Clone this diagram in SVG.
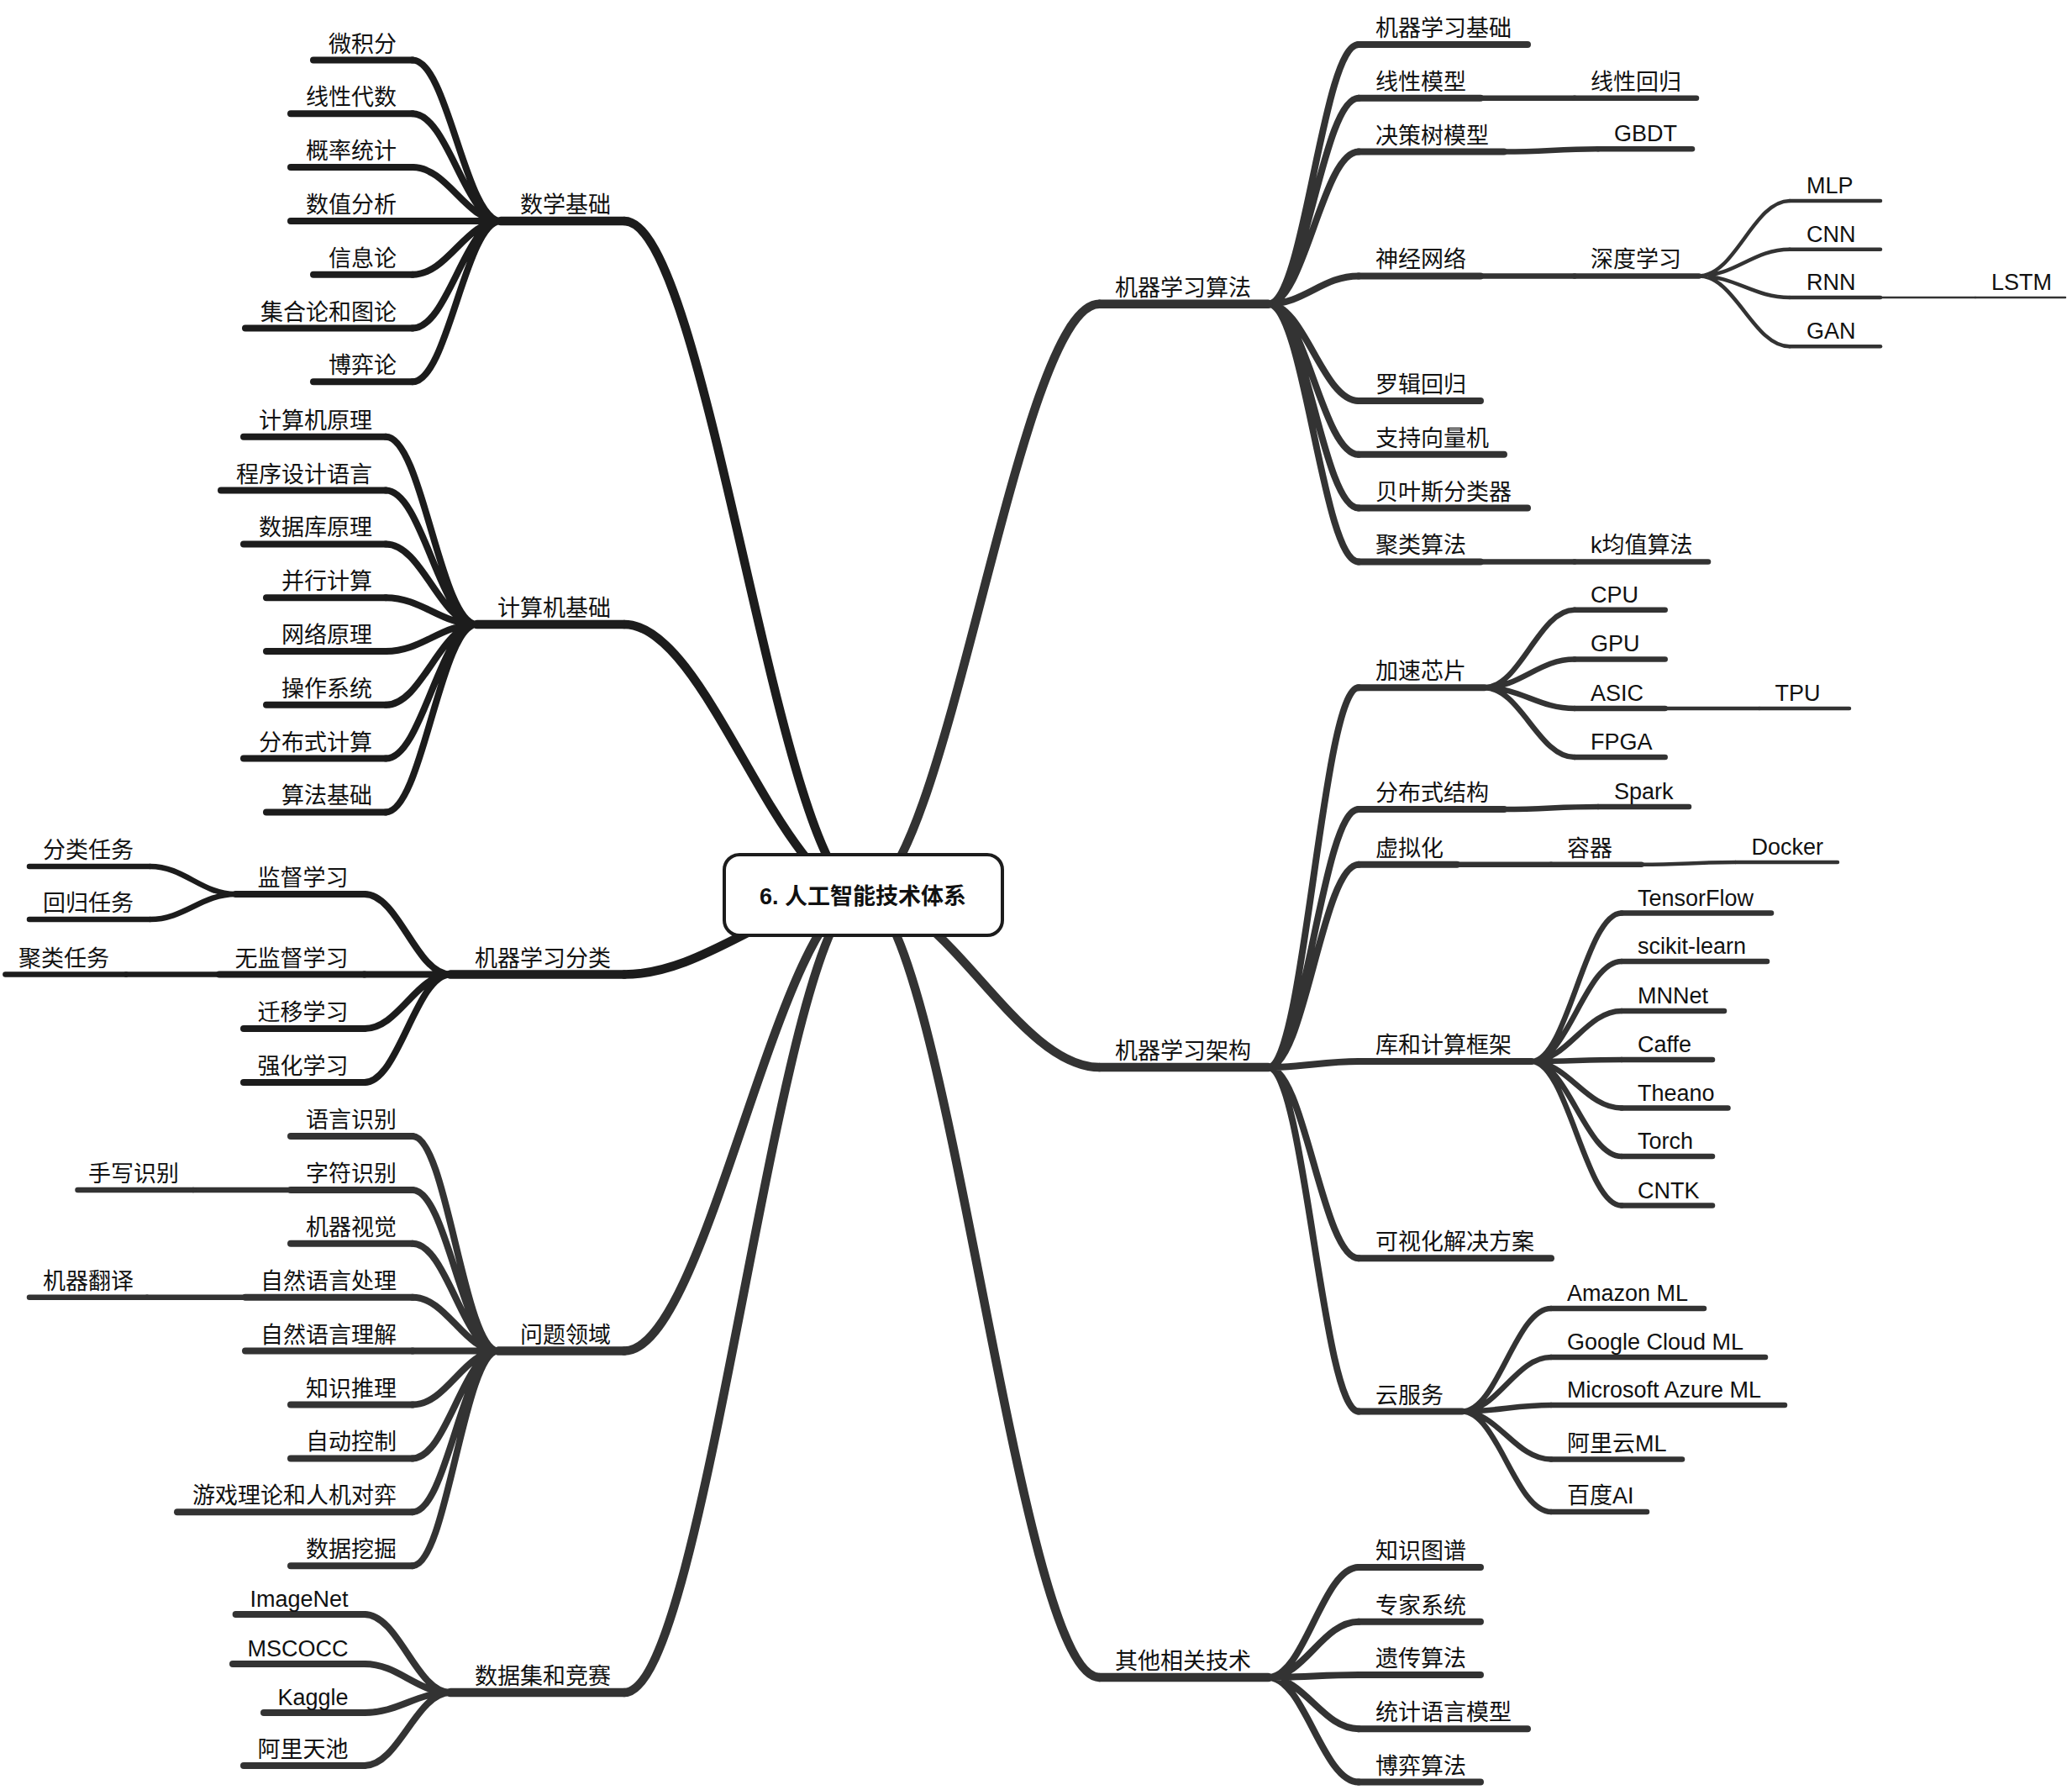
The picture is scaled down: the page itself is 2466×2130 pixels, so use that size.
<svg xmlns="http://www.w3.org/2000/svg" width="2466" height="2130" viewBox="0 0 2466 2130">
<style>
text{font-family:"Liberation Sans","Noto Sans CJK SC",sans-serif;font-size:27px;fill:#111}
.e{text-anchor:end}
path{fill:none;stroke-linecap:round;stroke-linejoin:round}
.k{stroke:#1c1c1c}.g{stroke:#333}
.w1{stroke-width:10.5}.w2{stroke-width:8}.w3{stroke-width:6.5}.w4{stroke-width:4.5}.w5{stroke-width:2.5}
</style>
<rect width="2466" height="2130" fill="#fff"/>
<g id="connectors">
<path class="k w1" d="M1027 1065C927.6 1065 842.4 263 743 263"/>
<path class="k w1" d="M1027 1065C927.6 1065 842.4 743 743 743"/>
<path class="k w1" d="M1027 1065C927.6 1065 842.4 1159.5 743 1159.5"/>
<path class="g w1" d="M1027 1065C927.6 1065 842.4 1607.5 743 1607.5"/>
<path class="g w1" d="M1027 1065C927.6 1065 842.4 2014 743 2014"/>
<path class="g w1" d="M1027 1065C1125.5 1065 1210 361.7 1308.5 361.7"/>
<path class="g w1" d="M1027 1065C1125.5 1065 1210 1270 1308.5 1270"/>
<path class="g w1" d="M1027 1065C1125.5 1065 1210 1996 1308.5 1996"/>
<path class="k w2" d="M596 263C554 263 533 71.5 491 71.5M596 263C554 263 533 135.3 491 135.3M596 263C554 263 533 199.1 491 199.1M596 263H491M596 263C554 263 533 326.7 491 326.7M596 263C554 263 533 390.5 491 390.5M596 263C554 263 533 454.3 491 454.3"/>
<path class="k w2" d="M567.6 743C524.2 743 502.6 519.8 459.2 519.8M567.6 743C524.2 743 502.6 583.6 459.2 583.6M567.6 743C524.2 743 502.6 647.4 459.2 647.4M567.6 743C524.2 743 502.6 711.2 459.2 711.2M567.6 743C524.2 743 502.6 775 459.2 775M567.6 743C524.2 743 502.6 838.8 459.2 838.8M567.6 743C524.2 743 502.6 902.6 459.2 902.6M567.6 743C524.2 743 502.6 966.4 459.2 966.4"/>
<path class="k w2" d="M536 1159.5C495.1 1159.5 474.6 1064 433.7 1064M536 1159.5H433.7M536 1159.5C495.1 1159.5 474.6 1224 433.7 1224M536 1159.5C495.1 1159.5 474.6 1288 433.7 1288"/>
<path class="k w3" d="M280.6 1064C239.8 1064 219.4 1031 178.6 1031M280.6 1064C239.8 1064 219.4 1094 178.6 1094M261 1159.5H150"/>
<path class="g w2" d="M593 1607.5C552.2 1607.5 531.8 1352 491 1352M593 1607.5C552.2 1607.5 531.8 1415.9 491 1415.9M593 1607.5C552.2 1607.5 531.8 1479.8 491 1479.8M593 1607.5C552.2 1607.5 531.8 1543.7 491 1543.7M593 1607.5H491M593 1607.5C552.2 1607.5 531.8 1671.5 491 1671.5M593 1607.5C552.2 1607.5 531.8 1735.4 491 1735.4M593 1607.5C552.2 1607.5 531.8 1799.3 491 1799.3M593 1607.5C552.2 1607.5 531.8 1863.2 491 1863.2"/>
<path class="g w3" d="M346 1415.9H230M292 1543.7H175"/>
<path class="g w2" d="M536 2014C495.1 2014 474.6 1921 433.7 1921M536 2014C495.1 2014 474.6 1980 433.7 1980M536 2014C495.1 2014 474.6 2038 433.7 2038M536 2014C495.1 2014 474.6 2101 433.7 2101"/>
<path class="g w2" d="M1509.5 361.7C1552.5 361.7 1574 53 1617 53M1509.5 361.7C1552.5 361.7 1574 116.7 1617 116.7M1509.5 361.7C1552.5 361.7 1574 180.5 1617 180.5M1509.5 361.7C1552.5 361.7 1574 328.4 1617 328.4M1509.5 361.7C1552.5 361.7 1574 477 1617 477M1509.5 361.7C1552.5 361.7 1574 540.8 1617 540.8M1509.5 361.7C1552.5 361.7 1574 604.6 1617 604.6M1509.5 361.7C1552.5 361.7 1574 668.4 1617 668.4"/>
<path class="g w3" d="M1762 116.7H1874M1790 180.5C1840 180.5 1852 177.3 1902 177.3M1762 328.4H1874M1762 668.4H1874"/>
<path class="g w4" d="M2022 328.4C2065.2 328.4 2086.8 239 2130 239M2022 328.4C2065.2 328.4 2086.8 296.7 2130 296.7M2022 328.4C2065.2 328.4 2086.8 354 2130 354M2022 328.4C2065.2 328.4 2086.8 412.3 2130 412.3"/>
<path class="g w5" d="M2238 354H2351"/>
<path class="g w2" d="M1509.5 1270C1552.5 1270 1574 818.2 1617 818.2M1509.5 1270C1552.5 1270 1574 963 1617 963M1509.5 1270C1552.5 1270 1574 1028.8 1617 1028.8M1509.5 1270C1552.5 1270 1574 1263 1617 1263M1509.5 1270C1552.5 1270 1574 1497.3 1617 1497.3M1509.5 1270C1552.5 1270 1574 1679.5 1617 1679.5"/>
<path class="g w3" d="M1766.6 818.2C1809.6 818.2 1831 725.8 1874 725.8M1766.6 818.2C1809.6 818.2 1831 784.4 1874 784.4M1766.6 818.2C1809.6 818.2 1831 843 1874 843M1766.6 818.2C1809.6 818.2 1831 901.1 1874 901.1"/>
<path class="g w4" d="M1981.7 843H2094M1953.6 1028.8C2003 1028.8 2016 1026 2065.6 1026"/>
<path class="g w3" d="M1790 963C1840 963 1852 960 1902 960M1734 1028.8H1846"/>
<path class="g w3" d="M1822.7 1263C1865.7 1263 1887 1086.5 1930 1086.5M1822.7 1263C1865.7 1263 1887 1144 1930 1144M1822.7 1263C1865.7 1263 1887 1203 1930 1203M1822.7 1263C1865.7 1263 1887 1261 1930 1261M1822.7 1263C1865.7 1263 1887 1318.5 1930 1318.5M1822.7 1263C1865.7 1263 1887 1376 1930 1376M1822.7 1263C1865.7 1263 1887 1434.6 1930 1434.6"/>
<path class="g w3" d="M1740 1679.5C1782.4 1679.5 1803.6 1557 1846 1557M1740 1679.5C1782.4 1679.5 1803.6 1615 1846 1615M1740 1679.5C1782.4 1679.5 1803.6 1672 1846 1672M1740 1679.5C1782.4 1679.5 1803.6 1736.5 1846 1736.5M1740 1679.5C1782.4 1679.5 1803.6 1799 1846 1799"/>
<path class="g w2" d="M1509.5 1996C1552.5 1996 1574 1865 1617 1865M1509.5 1996C1552.5 1996 1574 1929.7 1617 1929.7M1509.5 1996C1552.5 1996 1574 1993 1617 1993M1509.5 1996C1552.5 1996 1574 2057.2 1617 2057.2M1509.5 1996C1552.5 1996 1574 2120.6 1617 2120.6"/>
</g>
<g id="math"><path class="k w1" d="M596 263H743"/><text class="e" x="727" y="253">数学基础</text></g>
<g id="math-1"><path class="k w2" d="M373 71.5H491"/><text class="e" x="472" y="61.5">微积分</text></g>
<g id="math-2"><path class="k w2" d="M346 135.3H491"/><text class="e" x="472" y="125.3">线性代数</text></g>
<g id="math-3"><path class="k w2" d="M346 199.1H491"/><text class="e" x="472" y="189.1">概率统计</text></g>
<g id="math-4"><path class="k w2" d="M346 263H491"/><text class="e" x="472" y="253">数值分析</text></g>
<g id="math-5"><path class="k w2" d="M373 326.7H491"/><text class="e" x="472" y="316.7">信息论</text></g>
<g id="math-6"><path class="k w2" d="M292 390.5H491"/><text class="e" x="472" y="380.5">集合论和图论</text></g>
<g id="math-7"><path class="k w2" d="M373 454.3H491"/><text class="e" x="472" y="444.3">博弈论</text></g>
<g id="cs"><path class="k w1" d="M567.6 743H743"/><text class="e" x="727" y="733">计算机基础</text></g>
<g id="cs-1"><path class="k w2" d="M290 519.8H459.2"/><text class="e" x="443" y="509.8">计算机原理</text></g>
<g id="cs-2"><path class="k w2" d="M263 583.6H459.2"/><text class="e" x="443" y="573.6">程序设计语言</text></g>
<g id="cs-3"><path class="k w2" d="M290 647.4H459.2"/><text class="e" x="443" y="637.4">数据库原理</text></g>
<g id="cs-4"><path class="k w2" d="M317 711.2H459.2"/><text class="e" x="443" y="701.2">并行计算</text></g>
<g id="cs-5"><path class="k w2" d="M317 775H459.2"/><text class="e" x="443" y="765">网络原理</text></g>
<g id="cs-6"><path class="k w2" d="M317 838.8H459.2"/><text class="e" x="443" y="828.8">操作系统</text></g>
<g id="cs-7"><path class="k w2" d="M290 902.6H459.2"/><text class="e" x="443" y="892.6">分布式计算</text></g>
<g id="cs-8"><path class="k w2" d="M317 966.4H459.2"/><text class="e" x="443" y="956.4">算法基础</text></g>
<g id="mlc"><path class="k w1" d="M536 1159.5H743"/><text class="e" x="727" y="1149.5">机器学习分类</text></g>
<g id="mlc-1"><path class="k w2" d="M280.6 1064H433.7"/><text class="e" x="414.5" y="1054">监督学习</text></g>
<g id="mlc-1-1"><path class="k w3" d="M35 1031H178.6"/><text class="e" x="159" y="1021">分类任务</text></g>
<g id="mlc-1-2"><path class="k w3" d="M35 1094H178.6"/><text class="e" x="159" y="1084">回归任务</text></g>
<g id="mlc-2"><path class="k w2" d="M261 1159.5H433.7"/><text class="e" x="414.5" y="1149.5">无监督学习</text></g>
<g id="mlc-2-1"><path class="k w3" d="M6.4 1159.5H150"/><text x="22" y="1149.5">聚类任务</text></g>
<g id="mlc-3"><path class="k w2" d="M290 1224H433.7"/><text class="e" x="414.5" y="1214">迁移学习</text></g>
<g id="mlc-4"><path class="k w2" d="M290 1288H433.7"/><text class="e" x="414.5" y="1278">强化学习</text></g>
<g id="dom"><path class="g w1" d="M593 1607.5H743"/><text class="e" x="727" y="1597.5">问题领域</text></g>
<g id="dom-1"><path class="g w2" d="M346 1352H491"/><text class="e" x="472" y="1342">语言识别</text></g>
<g id="dom-2"><path class="g w2" d="M346 1415.9H491"/><text class="e" x="472" y="1405.9">字符识别</text></g>
<g id="dom-2-1"><path class="g w3" d="M92.5 1415.9H230"/><text x="105" y="1405.9">手写识别</text></g>
<g id="dom-3"><path class="g w2" d="M346 1479.8H491"/><text class="e" x="472" y="1469.8">机器视觉</text></g>
<g id="dom-4"><path class="g w2" d="M292 1543.7H491"/><text class="e" x="472" y="1533.7">自然语言处理</text></g>
<g id="dom-4-1"><path class="g w3" d="M35 1543.7H175"/><text x="51" y="1533.7">机器翻译</text></g>
<g id="dom-5"><path class="g w2" d="M292 1607.5H491"/><text class="e" x="472" y="1597.5">自然语言理解</text></g>
<g id="dom-6"><path class="g w2" d="M346 1671.5H491"/><text class="e" x="472" y="1661.5">知识推理</text></g>
<g id="dom-7"><path class="g w2" d="M346 1735.4H491"/><text class="e" x="472" y="1725.4">自动控制</text></g>
<g id="dom-8"><path class="g w2" d="M211 1799.3H491"/><text class="e" x="472" y="1789.3">游戏理论和人机对弈</text></g>
<g id="dom-9"><path class="g w2" d="M346 1863.2H491"/><text class="e" x="472" y="1853.2">数据挖掘</text></g>
<g id="data"><path class="g w1" d="M536 2014H743"/><text class="e" x="727" y="2004">数据集和竞赛</text></g>
<g id="data-1"><path class="g w2" d="M280.6 1921H433.7"/><text class="e" x="414.5" y="1912">ImageNet</text></g>
<g id="data-2"><path class="g w2" d="M277 1980H433.7"/><text class="e" x="414.5" y="1971">MSCOCC</text></g>
<g id="data-3"><path class="g w2" d="M314 2038H433.7"/><text class="e" x="414.5" y="2029">Kaggle</text></g>
<g id="data-4"><path class="g w2" d="M290 2101H433.7"/><text class="e" x="414.5" y="2091">阿里天池</text></g>
<g id="mla"><path class="g w1" d="M1308.5 361.7H1509.5"/><text x="1327" y="351.7">机器学习算法</text></g>
<g id="mla-1"><path class="g w2" d="M1617 53H1818"/><text x="1637" y="43">机器学习基础</text></g>
<g id="mla-2"><path class="g w2" d="M1617 116.7H1762"/><text x="1637" y="106.7">线性模型</text></g>
<g id="mla-2-1"><path class="g w3" d="M1874 116.7H2019"/><text x="1893" y="106.7">线性回归</text></g>
<g id="mla-3"><path class="g w2" d="M1617 180.5H1790"/><text x="1637" y="170.5">决策树模型</text></g>
<g id="mla-3-1"><path class="g w3" d="M1902 177.3H2014"/><text x="1921" y="168.3">GBDT</text></g>
<g id="mla-4"><path class="g w2" d="M1617 328.4H1762"/><text x="1637" y="318.4">神经网络</text></g>
<g id="mla-4-1"><path class="g w3" d="M1874 328.4H2022"/><text x="1893" y="318.4">深度学习</text></g>
<g id="mla-4-1-1"><path class="g w4" d="M2130 239H2238"/><text x="2150" y="230">MLP</text></g>
<g id="mla-4-1-2"><path class="g w4" d="M2130 296.7H2238"/><text x="2150" y="287.7">CNN</text></g>
<g id="mla-4-1-3"><path class="g w4" d="M2130 354H2238"/><text x="2150" y="345">RNN</text></g>
<g id="mla-4-1-3-1"><path class="g w5" d="M2351 354H2458"/><text x="2370" y="345">LSTM</text></g>
<g id="mla-4-1-4"><path class="g w4" d="M2130 412.3H2238"/><text x="2150" y="403.3">GAN</text></g>
<g id="mla-5"><path class="g w2" d="M1617 477H1762"/><text x="1637" y="467">罗辑回归</text></g>
<g id="mla-6"><path class="g w2" d="M1617 540.8H1790"/><text x="1637" y="530.8">支持向量机</text></g>
<g id="mla-7"><path class="g w2" d="M1617 604.6H1818"/><text x="1637" y="594.6">贝叶斯分类器</text></g>
<g id="mla-8"><path class="g w2" d="M1617 668.4H1762"/><text x="1637" y="658.4">聚类算法</text></g>
<g id="mla-8-1"><path class="g w3" d="M1874 668.4H2033"/><text x="1893" y="658.4">k均值算法</text></g>
<g id="arch"><path class="g w1" d="M1308.5 1270H1509.5"/><text x="1327" y="1260">机器学习架构</text></g>
<g id="arch-1"><path class="g w2" d="M1617 818.2H1766.6"/><text x="1637" y="808.2">加速芯片</text></g>
<g id="arch-1-1"><path class="g w3" d="M1874 725.8H1981.7"/><text x="1893" y="716.8">CPU</text></g>
<g id="arch-1-2"><path class="g w3" d="M1874 784.4H1981.7"/><text x="1893" y="775.4">GPU</text></g>
<g id="arch-1-3"><path class="g w3" d="M1874 843H1981.7"/><text x="1893" y="834">ASIC</text></g>
<g id="arch-1-3-1"><path class="g w4" d="M2094 843H2201"/><text x="2112.6" y="834">TPU</text></g>
<g id="arch-1-4"><path class="g w3" d="M1874 901.1H1981.7"/><text x="1893" y="892.1">FPGA</text></g>
<g id="arch-2"><path class="g w2" d="M1617 963H1790"/><text x="1637" y="953">分布式结构</text></g>
<g id="arch-2-1"><path class="g w3" d="M1902 960H2010"/><text x="1921" y="951">Spark</text></g>
<g id="arch-3"><path class="g w2" d="M1617 1028.8H1734"/><text x="1637" y="1018.8">虚拟化</text></g>
<g id="arch-3-1"><path class="g w3" d="M1846 1028.8H1953.6"/><text x="1865" y="1018.8">容器</text></g>
<g id="arch-3-1-1"><path class="g w4" d="M2065.6 1026H2187"/><text x="2084.5" y="1017">Docker</text></g>
<g id="arch-4"><path class="g w2" d="M1617 1263H1822.7"/><text x="1637" y="1253">库和计算框架</text></g>
<g id="arch-4-1"><path class="g w3" d="M1930 1086.5H2108"/><text x="1949" y="1077.5">TensorFlow</text></g>
<g id="arch-4-2"><path class="g w3" d="M1930 1144H2103"/><text x="1949" y="1135">scikit-learn</text></g>
<g id="arch-4-3"><path class="g w3" d="M1930 1203H2052"/><text x="1949" y="1194">MNNet</text></g>
<g id="arch-4-4"><path class="g w3" d="M1930 1261H2038"/><text x="1949" y="1252">Caffe</text></g>
<g id="arch-4-5"><path class="g w3" d="M1930 1318.5H2056.5"/><text x="1949" y="1309.5">Theano</text></g>
<g id="arch-4-6"><path class="g w3" d="M1930 1376H2038"/><text x="1949" y="1367">Torch</text></g>
<g id="arch-4-7"><path class="g w3" d="M1930 1434.6H2038"/><text x="1949" y="1425.6">CNTK</text></g>
<g id="arch-5"><path class="g w2" d="M1617 1497.3H1846"/><text x="1637" y="1487.3">可视化解决方案</text></g>
<g id="arch-6"><path class="g w2" d="M1617 1679.5H1740"/><text x="1637" y="1669.5">云服务</text></g>
<g id="arch-6-1"><path class="g w3" d="M1846 1557H2028"/><text x="1865" y="1548">Amazon ML</text></g>
<g id="arch-6-2"><path class="g w3" d="M1846 1615H2101"/><text x="1865" y="1606">Google Cloud ML</text></g>
<g id="arch-6-3"><path class="g w3" d="M1846 1672H2124"/><text x="1865" y="1663">Microsoft Azure ML</text></g>
<g id="arch-6-4"><path class="g w3" d="M1846 1736.5H2002"/><text x="1865" y="1726.5">阿里云ML</text></g>
<g id="arch-6-5"><path class="g w3" d="M1846 1799H1960"/><text x="1865" y="1789">百度AI</text></g>
<g id="other"><path class="g w1" d="M1308.5 1996H1509.5"/><text x="1327" y="1986">其他相关技术</text></g>
<g id="other-1"><path class="g w2" d="M1617 1865H1762"/><text x="1637" y="1855">知识图谱</text></g>
<g id="other-2"><path class="g w2" d="M1617 1929.7H1762"/><text x="1637" y="1919.7">专家系统</text></g>
<g id="other-3"><path class="g w2" d="M1617 1993H1762"/><text x="1637" y="1983">遗传算法</text></g>
<g id="other-4"><path class="g w2" d="M1617 2057.2H1818"/><text x="1637" y="2047.2">统计语言模型</text></g>
<g id="other-5"><path class="g w2" d="M1617 2120.6H1762"/><text x="1637" y="2110.6">博弈算法</text></g>
<g id="root"><rect x="862" y="1017" width="331" height="96" rx="18" fill="#fff" stroke="#1c1c1c" stroke-width="4"/><text x="1027" y="1076" text-anchor="middle" font-weight="bold" font-size="28">6. 人工智能技术体系</text></g>
</svg>
